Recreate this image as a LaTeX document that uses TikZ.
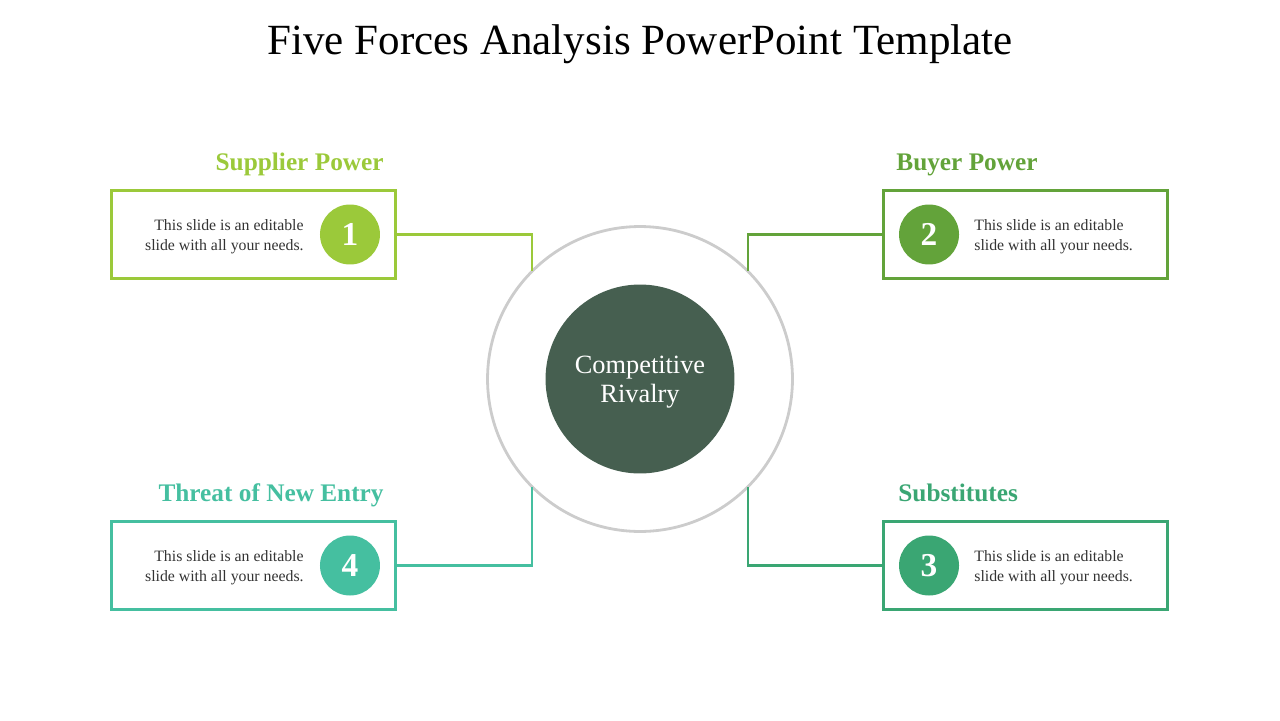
\documentclass[tikz,border=0pt]{standalone}
\usepackage{fontspec}
\setmainfont{Liberation Serif}
\usetikzlibrary{positioning,calc}
\definecolor{supC}{HTML}{9BC93A}
\definecolor{buyC}{HTML}{63A33A}
\definecolor{subC}{HTML}{3AA673}
\definecolor{entC}{HTML}{45BFA0}
\definecolor{coreC}{HTML}{465F50}
\definecolor{ringC}{HTML}{CCCCCC}
\definecolor{darkC}{HTML}{333333}

\begin{document}
\begin{tikzpicture}[
  x=0.02cm, y=-0.02cm,
  every node/.style={font=\rmfamily, text=darkC},
  forcebox/.style={draw=#1, line width=1.7pt, minimum width=5.7cm,
                   minimum height=1.75cm, inner sep=0pt, outer sep=0pt},
  numdot/.style={circle, fill=#1, minimum size=1.2cm, inner sep=0pt,
                 outer sep=0pt, text=white,
                 font=\rmfamily\bfseries\fontsize{19}{19}\selectfont},
  headlbl/.style={text=#1, inner sep=0pt,
                  font=\rmfamily\bfseries\fontsize{14.4}{16}\selectfont},
  bodytxt/.style={text=darkC, inner sep=0pt, yshift=-0.5mm,
                  font=\rmfamily\fontsize{9}{11.4}\selectfont},
  link/.style={draw=#1, line width=1.4pt},
]
\useasboundingbox (0,0) rectangle (1280,720);

% -- Title --
\node[anchor=base, text=black, font=\rmfamily\fontsize{24.5}{28}\selectfont]
  (title) at (640,54) {Five Forces Analysis PowerPoint Template};

% -- Centre: Competitive Rivalry --
\node[circle, draw=ringC, line width=1.6pt, minimum size=6.1cm,
      inner sep=0pt, outer sep=0pt] (ring) at (640,379) {};
\node[circle, fill=coreC, minimum size=3.78cm, inner sep=0pt] (core) at (ring) {};
\node[align=center, text=white, inner sep=0pt, yshift=-0.6mm,
      font=\rmfamily\fontsize{15}{16.5}\selectfont]
  (corelbl) at (core) {Competitive\\Rivalry};

% -- 1: Supplier Power (top left) --
\node[forcebox=supC] (sup) at (253.5,234.5) {};
\node[numdot=supC, left=3.2mm of sup.east] (n1) {1};
\node[bodytxt, align=right, left=3.2mm of n1] (t1)
  {This slide is an editable\\slide with all your needs.};
\node[headlbl=supC, anchor=base east] (h1) at ($(sup.north east)+(-12,-20)$)
  {Supplier Power};

% -- 2: Buyer Power (top right) --
\node[forcebox=buyC] (buy) at (1025.5,234.5) {};
\node[numdot=buyC, right=3.2mm of buy.west] (n2) {2};
\node[bodytxt, align=left, right=3mm of n2] (t2)
  {This slide is an editable\\slide with all your needs.};
\node[headlbl=buyC, anchor=base west] (h2) at ($(buy.north west)+(13,-20)$)
  {Buyer Power};

% -- 3: Substitutes (bottom right) --
\node[forcebox=subC] (subs) at (1025.5,565.5) {};
\node[numdot=subC, right=3.2mm of subs.west] (n3) {3};
\node[bodytxt, align=left, right=3mm of n3] (t3)
  {This slide is an editable\\slide with all your needs.};
\node[headlbl=subC, anchor=base west] (h3) at ($(subs.north west)+(15,-20)$)
  {Substitutes};

% -- 4: Threat of New Entry (bottom left) --
\node[forcebox=entC] (ent) at (253.5,565.5) {};
\node[numdot=entC, left=3.2mm of ent.east] (n4) {4};
\node[bodytxt, align=right, left=3.2mm of n4] (t4)
  {This slide is an editable\\slide with all your needs.};
\node[headlbl=entC, anchor=base east] (h4) at ($(ent.north east)+(-12,-20)$)
  {Threat of New Entry};

% -- Links to the ring --
\draw[link=supC] (sup.east) -| (ring.135);
\draw[link=buyC] (buy.west) -| (ring.45);
\draw[link=subC] (subs.west) -| (ring.315);
\draw[link=entC] (ent.east) -| (ring.225);

\end{tikzpicture}
\end{document}
